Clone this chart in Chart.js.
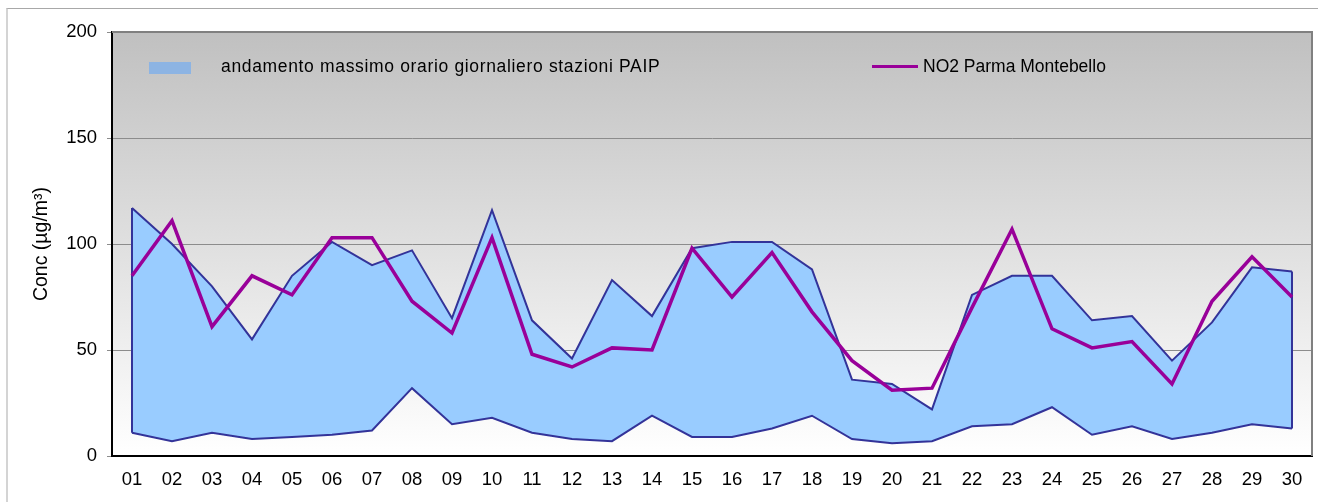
<!DOCTYPE html>
<html>
<head>
<meta charset="utf-8">
<script src="https://cdn.jsdelivr.net/npm/chart.js@4.4.1/dist/chart.umd.min.js"></script>
<style>
  html, body { margin:0; padding:0; background:#fff; }
  #wrap { position:relative; width:1318px; height:502px; overflow:hidden; font-family: Arial, "Liberation Sans", sans-serif; }
  #frame { position:absolute; left:6px; top:8px; right:-10px; bottom:-10px; border-left:2px solid #d4d4d4; border-top:1px solid #a8a8a8; }
  canvas { position:absolute; left:0; top:0; }
  .leg { position:absolute; font-size:17.5px; color:#000; white-space:nowrap; line-height:20px; }
  #legBox { position:absolute; left:149px; top:62px; width:42px; height:12px; background:#8db4e3; }
  #legLine { position:absolute; left:872px; top:65px; width:46px; height:3px; background:#990099; }
</style>
</head>
<body>
<div id="wrap">
  <div id="frame"></div>
  <canvas id="c" width="1318" height="502"></canvas>
  <div id="legBox"></div>
  <div class="leg" style="left:221px; top:56px; letter-spacing:0.66px;">andamento massimo orario giornaliero stazioni PAIP</div>
  <div id="legLine"></div>
  <div class="leg" style="left:923px; top:56px;">NO2 Parma Montebello</div>
</div>
<script>
const days = ["01","02","03","04","05","06","07","08","09","10","11","12","13","14","15","16","17","18","19","20","21","22","23","24","25","26","27","28","29","30"];
const paipMax = [117,100,80,55,85,101,90,97,65,116,64,46,83,66,98,101,101,88,36,34,22,76,85,85,64,66,45,63,89,87];
const paipMin = [11,7,11,8,9,10,12,32,15,18,11,8,7,19,9,9,13,19,8,6,7,14,15,23,10,14,8,11,15,13];
const no2Montebello = [85,111,61,85,76,103,103,73,58,103,48,42,51,50,98,75,96,68,45,31,32,70,107,60,51,54,34,73,94,75];
const yTicks = [0,50,100,150,200];

const toXY = arr => arr.map((v,i) => ({x:i, y:v}));
const last = days.length - 1;

const bgPlugin = {
  id: 'plotBg',
  beforeDraw(chart) {
    const {ctx, chartArea:a} = chart;
    const g = ctx.createLinearGradient(0, a.top, 0, a.bottom);
    g.addColorStop(0, '#c0c0c0');
    g.addColorStop(1, '#ffffff');
    ctx.save();
    ctx.fillStyle = g;
    ctx.fillRect(a.left, a.top, a.right - a.left, a.bottom - a.top);
    ctx.restore();
  },
  beforeDatasetsDraw(chart) {
    const {ctx, chartArea:a} = chart;
    ctx.save();
    ctx.strokeStyle = '#808080';
    ctx.lineWidth = 2;
    ctx.beginPath();
    ctx.moveTo(a.left, a.top);
    ctx.lineTo(a.right, a.top);
    ctx.lineTo(a.right, a.bottom);
    ctx.stroke();
    ctx.restore();
  }
};

const tickFont = {family: 'Arial, "Liberation Sans", sans-serif', size: 18.5};
const titleFont = {family: 'Arial, "Liberation Sans", sans-serif', size: 19.5};

new Chart(document.getElementById('c'), {
  type: 'line',
  data: {
    datasets: [
      { label: 'NO2 Parma Montebello', data: toXY(no2Montebello), borderColor: '#990099', borderWidth: 3.5, pointRadius: 0, fill: false, tension: 0 },
      { label: 'andamento massimo orario giornaliero stazioni PAIP', data: toXY(paipMax), borderColor: '#333399', borderWidth: 2, pointRadius: 0, backgroundColor: '#99ccff', fill: '+1', tension: 0 },
      { label: 'min', data: toXY(paipMin), borderColor: '#333399', borderWidth: 2, pointRadius: 0, fill: false, tension: 0 },
      { label: 'edge start', data: [{x:0, y:paipMax[0]}, {x:0, y:paipMin[0]}], borderColor: '#333399', borderWidth: 2, pointRadius: 0, fill: false },
      { label: 'edge end', data: [{x:last, y:paipMax[last]}, {x:last, y:paipMin[last]}], borderColor: '#333399', borderWidth: 2, pointRadius: 0, fill: false }
    ]
  },
  options: {
    responsive: false,
    animation: false,
    events: [],
    layout: { padding: { top: 32, right: 6, bottom: 0, left: 0 } },
    plugins: {
      legend: { display: false },
      tooltip: { enabled: false },
      filler: { drawTime: 'beforeDatasetsDraw' }
    },
    scales: {
      x: {
        type: 'linear',
        min: -0.5,
        max: last + 0.5,
        afterBuildTicks(scale) { scale.ticks = days.map((d, i) => ({value: i})); },
        grid: { display: false, drawTicks: false },
        border: { display: true, color: '#000000', width: 2 },
        ticks: {
          autoSkip: false,
          maxRotation: 0,
          padding: 13,
          color: '#000',
          font: tickFont,
          callback: v => days[v] !== undefined ? days[v] : ''
        },
        afterFit(scale) { scale.height = 46; }
      },
      y: {
        min: yTicks[0],
        max: yTicks[yTicks.length - 1],
        afterBuildTicks(scale) { scale.ticks = yTicks.map(v => ({value: v})); },
        grid: { color: '#8c8c8c', lineWidth: 1, tickLength: 5, drawTicks: true },
        border: { display: true, color: '#000000', width: 2 },
        ticks: { padding: 10, color: '#000', font: tickFont },
        title: { display: true, text: 'Conc (µg/m³)', color: '#000', font: titleFont, padding: { top: 30, bottom: 0 } },
        afterFit(scale) { scale.width = 112; }
      }
    }
  },
  plugins: [bgPlugin]
});
</script>
</body>
</html>
